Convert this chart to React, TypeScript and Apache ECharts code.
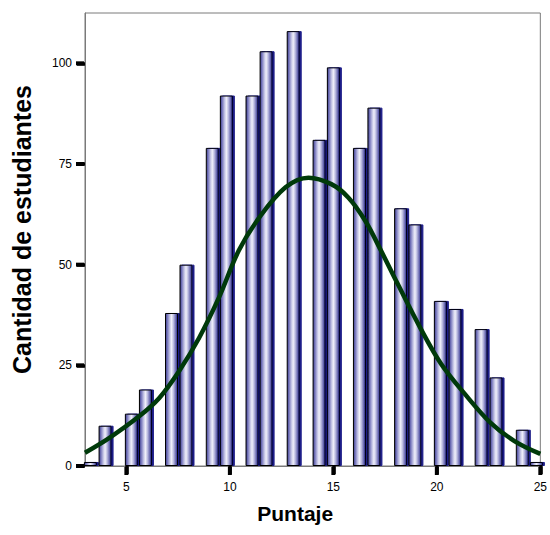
import React, { useEffect, useRef } from "react";
import * as echarts from "echarts";

// Histogram bins: midpoint of each bar (score units) and number of students
const binMid = [3.26, 3.97, 5.24, 5.92, 7.18, 7.88, 9.15, 9.83, 11.07, 11.75, 13.06, 14.31, 15.0, 16.26, 16.96, 18.25, 18.94, 20.17, 20.88, 22.14, 22.86, 24.13, 24.81];
const counts = [1, 10, 13, 19, 38, 50, 79, 92, 92, 103, 108, 81, 99, 79, 89, 64, 60, 41, 39, 34, 22, 9, 1];

// Normal curve
const curveX = [3, 4.18, 5.63, 6.59, 7.55, 8.51, 9.47, 10.43, 11.39, 12.69, 13.8, 14.9, 15.72, 16.54, 17.3, 18.1, 19.2, 20.2, 21.35, 22.6, 23.75, 25];
const curveY = [3.3, 7.0, 12.4, 16.9, 23.6, 31.8, 41.8, 53.5, 61.5, 69.2, 71.6, 70.0, 66.7, 60.9, 53.5, 45.3, 34.3, 25.4, 17.9, 10.7, 6.2, 3.0];

const xTicks = [5, 10, 15, 20, 25];
const yTicks = [0, 25, 50, 75, 100];

export default function App() {
  const ref = useRef<HTMLDivElement>(null);
  useEffect(() => {
    if (!ref.current) return;
    const chart = echarts.init(ref.current, null, { renderer: "svg" });
    const font = "Arial, 'Liberation Sans', sans-serif";
    chart.setOption({
      animation: false,
      backgroundColor: "#ffffff",
      grid: {
        left: 85,
        right: 8,
        top: 13,
        bottom: 69,
        show: true,
        borderColor: "#7a7a7a",
        borderWidth: 1,
      },
      xAxis: {
        type: "value",
        min: 3,
        max: 25,
        name: "Puntaje",
        nameLocation: "middle",
        nameGap: 37,
        nameTextStyle: {
          fontFamily: font,
          fontWeight: "bold",
          fontSize: 21,
          color: "#000",
          padding: [0, 35, 0, 0],
        },
        splitLine: { show: false },
        axisLine: { show: true, onZero: false, lineStyle: { color: "#7a7a7a", width: 1 } },
        axisTick: {
          show: true,
          customValues: xTicks,
          length: 8,
          lineStyle: { color: "#000000", width: 3.5 },
        },
        axisLabel: {
          customValues: xTicks,
          margin: 15,
          fontFamily: font,
          fontSize: 12,
          color: "#000",
        },
      },
      yAxis: {
        type: "value",
        min: 0,
        max: 112.5,
        name: "Cantidad de estudiantes",
        nameLocation: "middle",
        nameGap: 51,
        nameTextStyle: {
          fontFamily: font,
          fontWeight: "bold",
          fontSize: 25,
          color: "#000",
          padding: [0, 0, 0, 20],
        },
        splitLine: { show: false },
        axisLine: { show: true, lineStyle: { color: "#7a7a7a", width: 1 } },
        axisTick: {
          show: true,
          customValues: yTicks,
          length: 8,
          lineStyle: { color: "#000000", width: 3.5 },
        },
        axisLabel: {
          customValues: yTicks,
          margin: 13,
          fontFamily: font,
          fontSize: 12,
          color: "#000",
        },
      },
      series: [
        {
          type: "bar",
          barWidth: 13,
          clip: false,
          data: binMid.map((x, i) => [x, counts[i]]),
          itemStyle: {
            borderColor: "#000",
            borderWidth: 1,
            shadowColor: "#1a1a88",
            shadowOffsetX: 2,
            shadowOffsetY: 0,
            shadowBlur: 0,
            color: {
              type: "linear",
              x: 0,
              y: 0,
              x2: 1,
              y2: 0,
              colorStops: [
                { offset: 0, color: "#3c3c8c" },
                { offset: 0.15, color: "#7474ba" },
                { offset: 0.35, color: "#c2c2e4" },
                { offset: 0.5, color: "#f0f0fa" },
                { offset: 0.65, color: "#c2c2e4" },
                { offset: 0.85, color: "#6c6cb2" },
                { offset: 1, color: "#22228a" },
              ],
            },
          },
          z: 2,
        },
        {
          type: "line",
          smooth: 0.35,
          showSymbol: false,
          symbol: "none",
          clip: false,
          data: curveX.map((x, i) => [x, curveY[i]]),
          lineStyle: { color: "#003a0a", width: 4.5 },
          z: 3,
        },
      ],
    });

    const ticks: any[] = [];
    xTicks.forEach((v) => {
      const p = chart.convertToPixel({ xAxisIndex: 0, yAxisIndex: 0 }, [v, 0]) as number[];
      if (p && isFinite(p[0])) {
        ticks.push({
          type: "rect",
          z: 100,
          shape: { x: p[0] - 2, y: p[1] + 1, width: 4, height: 8 },
          style: { fill: "#000000" },
        });
      }
    });
    yTicks.forEach((v) => {
      const p = chart.convertToPixel({ xAxisIndex: 0, yAxisIndex: 0 }, [3, v]) as number[];
      if (p && isFinite(p[1])) {
        ticks.push({
          type: "rect",
          z: 100,
          shape: { x: p[0] - 9, y: p[1] - 2, width: 8, height: 4 },
          style: { fill: "#000000" },
        });
      }
    });
    chart.setOption({ graphic: { elements: ticks } });

    return () => chart.dispose();
  }, []);
  return (
    <div
      ref={ref}
      style={{ position: "fixed", left: 0, top: 0, width: 550, height: 535 }}
    />
  );
}
